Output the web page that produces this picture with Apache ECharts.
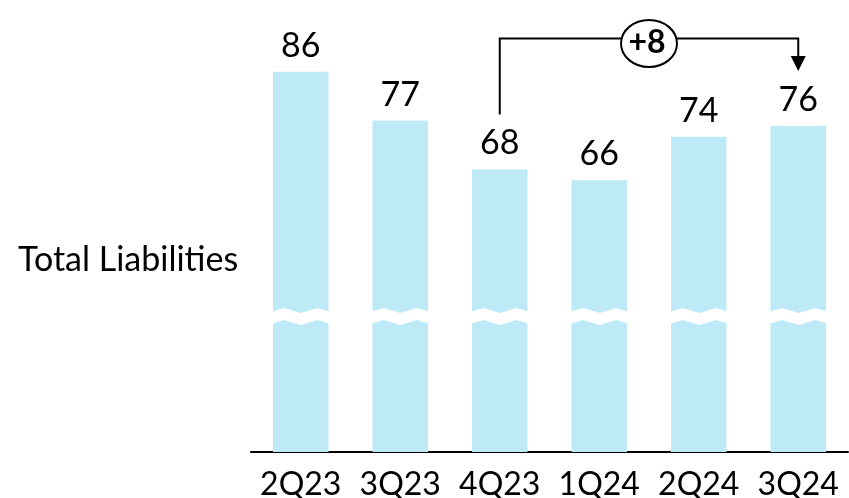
<!DOCTYPE html>
<html><head><meta charset="utf-8">
<script src="https://cdn.jsdelivr.net/npm/echarts@6/dist/echarts.min.js"></script>
<style>html,body{margin:0;padding:0;background:#fff}#c{width:849px;height:498px}</style>
</head><body><div id="c"></div>
<script>
// ---- data ----
const categories = ['2Q23', '3Q23', '4Q23', '1Q24', '2Q24', '3Q24'];
const liabilities = [86, 77, 68, 66, 74, 76];
const rowLabel = 'Total Liabilities';
const changeFrom = '4Q23';
const changeTo = '3Q24';
const changeLabel = '+8';
const axisMin = 0;
const axisMax = 90;
const breakStart = 23.9;
const breakEnd = 42.0;

// ---- chart ----
const FONT = 'Lato';
const chart = echarts.init(document.getElementById('c'), null, { renderer: 'canvas' });
chart.setOption({
  animation: false,
  backgroundColor: '#fff',
  grid: { left: 251, right: 1, top: 50, bottom: 46, outerBoundsMode: 'none', containLabel: false },
  xAxis: {
    type: 'category',
    data: categories,
    axisTick: { show: false },
    axisLine: { lineStyle: { color: '#000', width: 2 } },
    axisLabel: { color: '#000', fontFamily: FONT, fontSize: 32, margin: 17, interval: 0, hideOverlap: false }
  },
  yAxis: {
    type: 'value',
    min: axisMin,
    max: axisMax,
    axisLine: { show: false },
    axisTick: { show: false },
    axisLabel: { show: false },
    splitLine: { show: false },
    breaks: [{ start: breakStart, end: breakEnd, gap: '2.89%' }],
    breakArea: {
      show: true,
      itemStyle: { color: '#fff', borderWidth: 0, borderColor: '#fff', opacity: 1 },
      zigzagAmplitude: 2.5,
      zigzagMinSpan: 16.6,
      zigzagMaxSpan: 16.6,
      zigzagZ: 100,
      expandOnClick: false
    }
  },
  series: [{
    type: 'bar',
    data: liabilities,
    barWidth: 55.5,
    itemStyle: { color: '#BEEAF8' },
    label: { show: true, position: 'top', distance: 9, color: '#000', fontFamily: FONT, fontSize: 34 }
  }]
});

// ---- annotation built from library coordinates ----
const i1 = categories.indexOf(changeFrom);
const i2 = categories.indexOf(changeTo);
const p1 = chart.convertToPixel({ seriesIndex: 0 }, [i1, liabilities[i1]]);
const p2 = chart.convertToPixel({ seriesIndex: 0 }, [i2, liabilities[i2]]);
const pTop = chart.convertToPixel({ seriesIndex: 0 }, [i1, axisMax]);
const lineY = pTop[1] - 11.5;
const clear = 55;
const arrowH = 15, arrowW = 15;
const midX = (p1[0] + p2[0]) / 2;

chart.setOption({
  graphic: [
    {
      type: 'text', x: 18, y: 260,
      style: { text: rowLabel, fill: '#000', font: '34px Lato', align: 'left', verticalAlign: 'middle' }
    },
    {
      type: 'polyline',
      shape: { points: [[p1[0], p1[1] - clear], [p1[0], lineY], [p2[0], lineY], [p2[0], p2[1] - clear - arrowH]] },
      style: { stroke: '#000', lineWidth: 2, fill: null }
    },
    {
      type: 'polygon',
      shape: { points: [[p2[0] - arrowW / 2, p2[1] - clear - arrowH], [p2[0] + arrowW / 2, p2[1] - clear - arrowH], [p2[0], p2[1] - clear]] },
      style: { fill: '#000' }
    },
    {
      type: 'ellipse',
      shape: { cx: midX, cy: lineY + 5, rx: 28, ry: 23.5 },
      style: { fill: '#fff', stroke: '#000', lineWidth: 2 },
      z: 10
    },
    {
      type: 'text', x: midX - 2, y: lineY + 4, z: 11,
      style: { text: changeLabel, fill: '#000', font: 'bold 32px Lato', align: 'center', verticalAlign: 'middle' }
    }
  ]
});
</script>
</body></html>
